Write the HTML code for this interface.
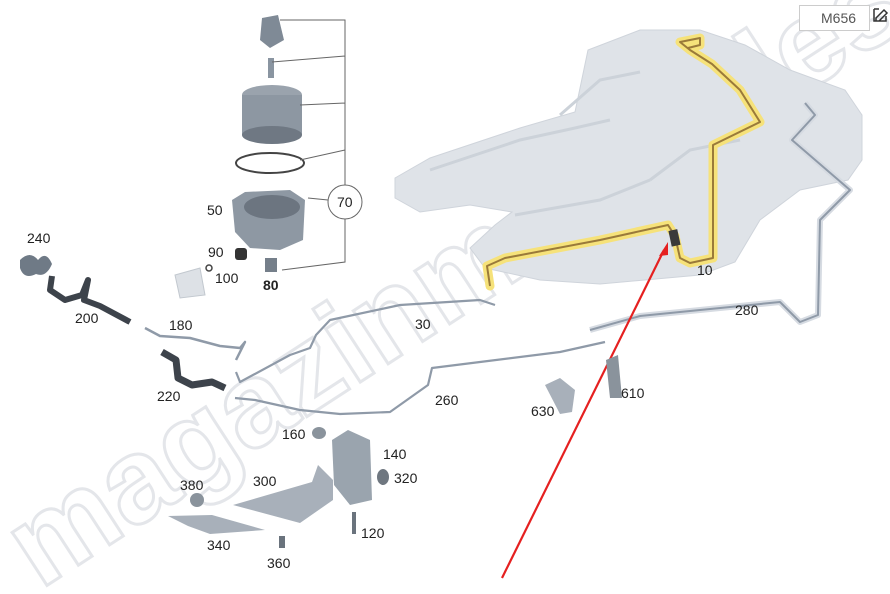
<!DOCTYPE html>
<html><head><style>
html,body{margin:0;padding:0;background:#fff;}
svg{display:block;}
text{font-family:"Liberation Sans",Arial,sans-serif;font-size:14px;fill:#222;}
</style></head><body>
<svg width="890" height="594" viewBox="0 0 890 594" xmlns="http://www.w3.org/2000/svg">
<!-- watermark -->
<text x="0" y="0" transform="translate(40,590) rotate(-33)" style="font-size:120px;font-weight:bold;fill:none;stroke:#e4e6ea;stroke-width:3">magazinmercedes.ru</text>
<!-- tank -->
<path d="M395,178 L430,158 L520,128 L575,112 L588,50 L640,30 L700,30 L745,45 L790,70 L845,90 L862,115 L862,160 L848,180 L800,190 L760,220 L735,262 L700,275 L600,284 L540,280 L485,268 L470,248 L495,225 L512,212 L470,205 L420,212 L395,198 Z" fill="#dfe3e8" stroke="#cfd4db" stroke-width="1"/>
<path d="M430,170 L520,140 L575,128 L610,120 M515,215 L600,200 L650,180 M560,115 L600,80 L640,72 M650,180 L690,150 L740,140" stroke="#ccd2d9" stroke-width="3" fill="none"/>
<!-- yellow highlighted line -->
<path d="M490,286 L487,266 L505,258 L600,240 L668,225 L675,236 L680,258 L690,263 L713,258 L713,145 L760,122 L740,90 L712,64 L690,50 L680,42 L700,38 L700,45 L688,48" fill="none" stroke="#f6e27a" stroke-width="9" stroke-linejoin="round" stroke-linecap="round"/>
<path d="M490,286 L487,266 L505,258 L600,240 L668,225 L675,236 L680,258 L690,263 L713,258 L713,145 L760,122 L740,90 L712,64 L690,50 L680,42 L700,38 L700,45 L688,48" fill="none" stroke="#9a7a3a" stroke-width="2" stroke-linejoin="round"/>
<rect x="670" y="230" width="9" height="16" fill="#3a3a3a" transform="rotate(-12 674 238)"/>
<!-- tube 280 -->
<path d="M805,103 L815,115 L792,140 L850,190 L820,220 L818,315 L800,322 L780,302 L700,310 L640,316 L590,330" fill="none" stroke="#d6dbe2" stroke-width="6" stroke-linejoin="round"/>
<path d="M805,103 L815,115 L792,140 L850,190 L820,220 L818,315 L800,322 L780,302 L700,310 L640,316 L590,330" fill="none" stroke="#8f9aa8" stroke-width="2" stroke-linejoin="round"/>
<!-- tube 30 -->
<path d="M495,305 L480,300 L400,305 L330,320 L316,335 L310,348 L290,355 L240,382 L236,372" fill="none" stroke="#8f9aa8" stroke-width="2.2" stroke-linejoin="round"/>
<!-- tube 260 -->
<path d="M605,342 L560,352 L480,362 L432,368 L428,385 L390,412 L340,414 L300,410 L255,400 L235,398" fill="none" stroke="#8f9aa8" stroke-width="2.2" stroke-linejoin="round"/>
<!-- tube 180 -->
<path d="M145,328 L160,336 L190,338 L220,346 L240,348 L245,342 L236,360" fill="none" stroke="#8f9aa8" stroke-width="2.5" stroke-linejoin="round"/>
<!-- hose 200 -->
<path d="M52,276 L50,290 L65,300 L82,295 L88,280 L84,300 L100,306 L130,322" fill="none" stroke="#3d434b" stroke-width="6" stroke-linejoin="round"/>
<path d="M20,260 q10,-10 18,0 q8,-10 14,4 q-6,14 -16,10 q-12,6 -16,-6 z" fill="#6f7a86"/>
<!-- hose 220 -->
<path d="M162,352 L176,360 L178,378 L192,385 L212,382 L225,388" fill="none" stroke="#3d434b" stroke-width="7" stroke-linejoin="round"/>
<!-- red arrow -->
<line x1="502" y1="578" x2="664" y2="250" stroke="#e52020" stroke-width="2.2"/>
<polygon points="668,242 659,256 668,255" fill="#e52020"/>
<!-- filter assembly -->
<path d="M262,18 L278,15 L284,40 L270,48 L260,40 Z" fill="#7f8a96"/>
<rect x="268" y="58" width="6" height="20" fill="#8a95a1"/>
<ellipse cx="272" cy="95" rx="30" ry="10" fill="#9aa3ad"/>
<rect x="242" y="95" width="60" height="40" fill="#8d97a2"/>
<ellipse cx="272" cy="135" rx="30" ry="9" fill="#6f7883"/>
<ellipse cx="270" cy="163" rx="34" ry="10" fill="none" stroke="#444" stroke-width="2"/>
<path d="M232,200 L245,192 L290,190 L305,200 L303,240 L280,250 L250,248 L235,232 Z" fill="#8e98a3"/>
<ellipse cx="272" cy="207" rx="28" ry="12" fill="#6c7580"/>
<rect x="235" y="248" width="12" height="12" rx="3" fill="#333"/>
<circle cx="209" cy="268" r="3" fill="none" stroke="#444" stroke-width="1.5"/>
<rect x="265" y="258" width="12" height="14" fill="#757f8a"/>
<path d="M175,275 L200,268 L205,295 L180,298 Z" fill="#dde1e6" stroke="#c2c8cf"/>
<!-- bracket lines -->
<path d="M280,20 L345,20 L345,262 L282,270 M272,62 L345,56 M300,105 L345,103 M300,160 L345,150 M308,198 L328,200" fill="none" stroke="#666" stroke-width="1"/>
<circle cx="345" cy="202" r="17" fill="#fff" stroke="#666" stroke-width="1"/>
<text x="337" y="207">70</text>
<!-- lower parts -->
<path d="M332,440 L348,430 L370,440 L372,500 L350,505 L334,485 Z" fill="#9aa4ae"/>
<ellipse cx="319" cy="433" rx="7" ry="6" fill="#8a939c"/>
<ellipse cx="383" cy="477" rx="6" ry="8" fill="#6f7780"/>
<path d="M233,505 L312,482 L318,465 L333,480 L333,500 L300,523 Z" fill="#a8b0ba"/>
<path d="M168,516 L212,515 L265,530 L210,534 L188,526 Z" fill="#a8b0ba"/>
<ellipse cx="197" cy="500" rx="7" ry="7" fill="#8a939c"/>
<rect x="352" y="512" width="4" height="22" fill="#6a737d"/>
<rect x="279" y="536" width="6" height="12" fill="#6a737d"/>
<path d="M545,385 L560,378 L575,390 L572,412 L560,414 Z" fill="#a8b0ba"/>
<path d="M606,360 L618,355 L622,398 L610,398 Z" fill="#8a939c"/>
<!-- labels -->
<text x="27" y="243">240</text>
<text x="75" y="323">200</text>
<text x="169" y="330">180</text>
<text x="157" y="401">220</text>
<text x="415" y="329">30</text>
<text x="435" y="405">260</text>
<text x="735" y="315">280</text>
<text x="697" y="275">10</text>
<text x="531" y="416">630</text>
<text x="621" y="398">610</text>
<text x="282" y="439">160</text>
<text x="383" y="459">140</text>
<text x="394" y="483">320</text>
<text x="180" y="490">380</text>
<text x="253" y="486">300</text>
<text x="207" y="550">340</text>
<text x="361" y="538">120</text>
<text x="267" y="568">360</text>
<text x="207" y="215">50</text>
<text x="208" y="257">90</text>
<text x="215" y="283">100</text>
<text x="263" y="290" style="font-weight:bold">80</text>
<!-- M656 box -->
<rect x="799.5" y="5.5" width="70" height="25" fill="#fff" stroke="#ccc"/>
<text x="821" y="23" style="fill:#555">M656</text>
<path d="M876,18 l8,-8 l3,3 l-8,8 h-3 z M874,9 h5 M874,9 v12 h12 v-5" fill="none" stroke="#333" stroke-width="1.5"/>
</svg>
</body></html>
